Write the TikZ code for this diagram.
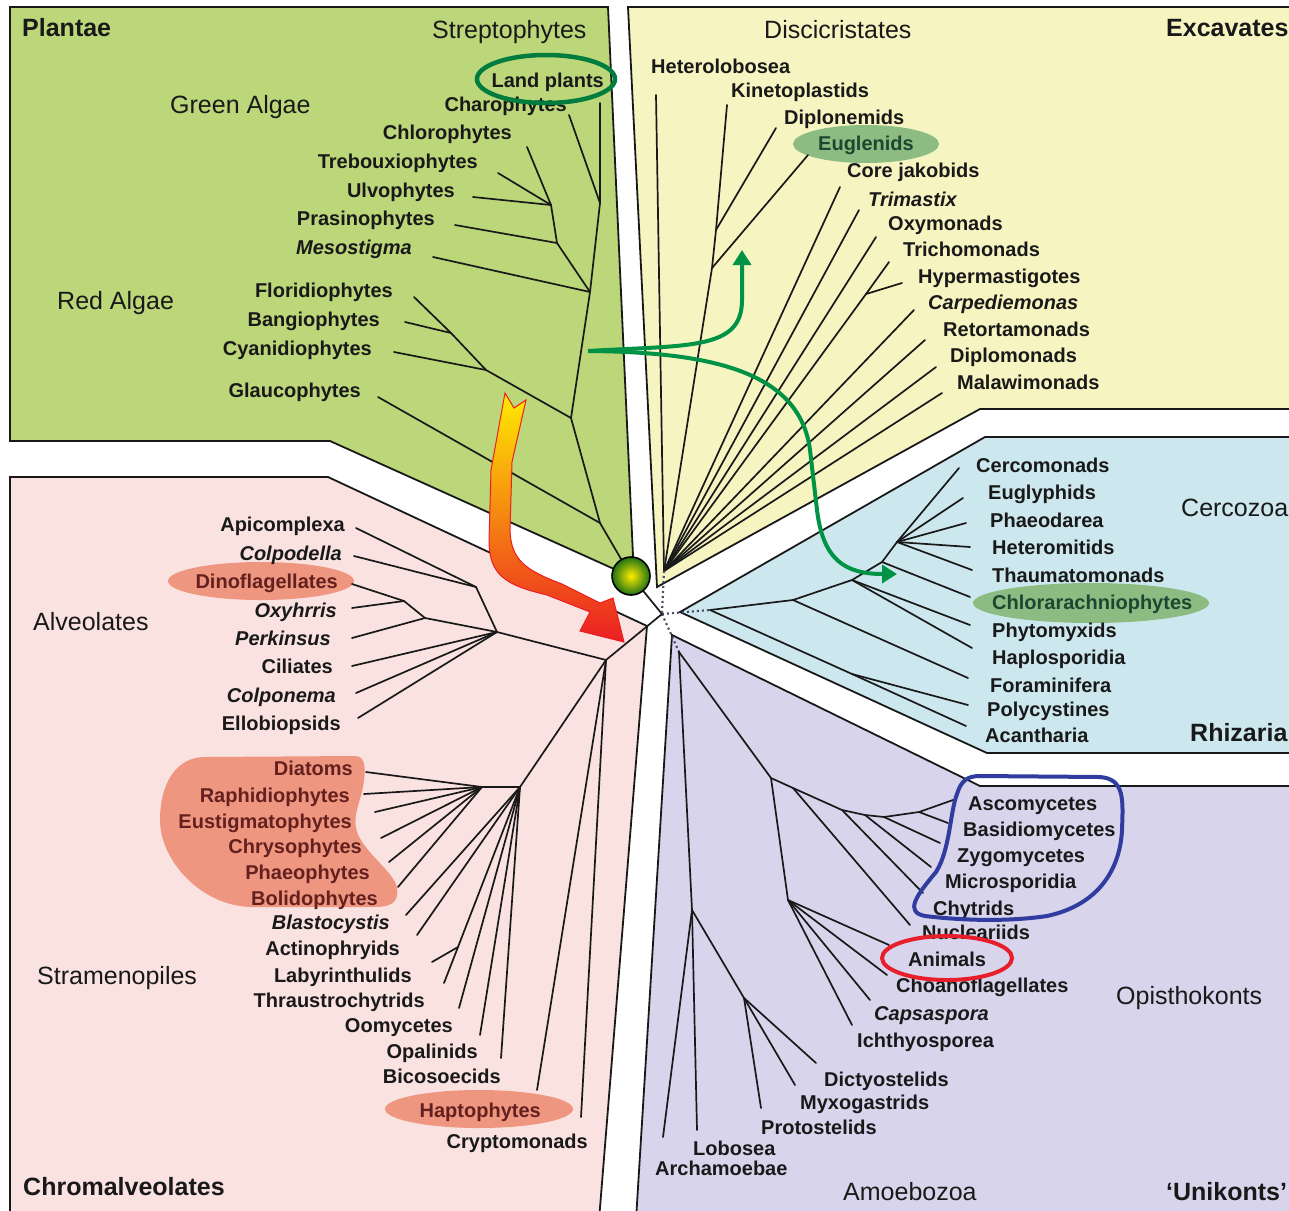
\documentclass[tikz,border=0pt]{standalone}
\usepackage{fontspec}
\setmainfont{Liberation Sans}
\usetikzlibrary{arrows.meta}
\definecolor{plantgreen}{RGB}{188,214,122}
\definecolor{excyellow}{RGB}{246,244,193}
\definecolor{rhizblue}{RGB}{204,232,238}
\definecolor{unipurple}{RGB}{216,212,236}
\definecolor{chrompink}{RGB}{250,226,224}
\definecolor{salmon}{RGB}{238,150,128}
\definecolor{hlgreen}{RGB}{140,188,130}
\definecolor{arrowgreen}{RGB}{0,146,69}
\definecolor{lpgreen}{RGB}{0,125,62}
\definecolor{fungiblue}{RGB}{48,60,160}
\definecolor{animred}{RGB}{232,30,42}
\definecolor{maroonc}{RGB}{100,32,30}
\definecolor{dkgreen}{RGB}{30,70,48}
\definecolor{dotcol}{RGB}{70,80,105}
\definecolor{inkc}{RGB}{25,25,25}
\definecolor{ayellow}{RGB}{255,236,0}
\definecolor{aorange}{RGB}{245,140,30}
\definecolor{ared}{RGB}{235,30,35}
\definecolor{ballout}{RGB}{30,115,20}
\begin{document}
\begin{tikzpicture}[x=1pt,y=-1pt,
 tx/.style={font=\fontsize{20}{22}\selectfont\bfseries, inner sep=0pt, text=inkc, text height=14.3pt, text depth=0pt},
 txi/.style={tx, font=\fontsize{20}{22}\selectfont\bfseries\itshape},
 grp/.style={font=\fontsize{25}{28}\selectfont, inner sep=0pt, text=inkc, text height=17.9pt, text depth=0pt},
 sgrp/.style={font=\fontsize{25}{28}\selectfont\bfseries, inner sep=0pt, text=inkc, text height=17.9pt, text depth=0pt},
 tl/.style={draw=inkc, line width=1.7pt, line cap=round, line join=round},
 rline/.style={draw=inkc, line width=1.8pt},
 dotl/.style={draw=dotcol, line width=2.2pt, dash pattern=on 2pt off 3pt},
 garrow/.style={draw=arrowgreen, line width=4pt, -{Triangle[length=15pt,width=18pt]}},
]
\useasboundingbox (0,0) rectangle (1289,1210);
\fill[white] (0,0) rectangle (1289,1210);
\clip (0,0) rectangle (1289,1210);

% ---------------- regions ----------------
\fill[plantgreen] (10,7) -- (608,7) -- (634,578) -- (330,441) -- (10,441) -- cycle;
\draw[rline] (10,7) -- (608,7) -- (634,578) -- (330,441) -- (10,441) -- cycle;
\fill[excyellow] (628,7) -- (1300,7) -- (1300,409) -- (980,409) -- (657,587) -- cycle;
\draw[rline] (628,7) -- (1300,7) -- (1300,409) -- (980,409) -- (657,587) -- cycle;
\fill[rhizblue] (985,437) -- (1300,437) -- (1300,753) -- (987,753) -- (680,612) -- cycle;
\draw[rline] (985,437) -- (1300,437) -- (1300,753) -- (987,753) -- (680,612) -- cycle;
\fill[unipurple] (672,635) -- (980,786) -- (1300,786) -- (1300,1220) -- (636,1220) -- cycle;
\draw[rline] (672,635) -- (980,786) -- (1300,786) -- (1300,1220) -- (636,1220) -- cycle;
\fill[chrompink] (10,477) -- (328,477) -- (647,626) -- (599,1220) -- (10,1220) -- cycle;
\draw[rline] (10,477) -- (328,477) -- (647,626) -- (599,1220) -- (10,1220) -- cycle;

% ---------------- highlight fills ----------------
\fill[hlgreen] (866,144) ellipse (73 and 19);
\fill[hlgreen] (1091,603) ellipse (118 and 20);
\fill[salmon] (261,581) ellipse (93 and 19);
\fill[salmon] (479,1109) ellipse (94 and 19);
\fill[salmon] (205,757) -- (355,756) .. controls (364,756) and (366,765) .. (364,780)
  .. controls (362,800) and (353,812) .. (356,828) .. controls (360,850) and (395,872) .. (397,888)
  .. controls (399,903) and (390,907) .. (375,907) -- (250,907)
  .. controls (200,905) and (160,860) .. (160,820) .. controls (160,785) and (175,757) .. (205,757) -- cycle;

% ---------------- coordinates ----------------
\coordinate (C) at (662,614);
\coordinate (Pc) at (631,576);
% Plantae
\coordinate (P1) at (600,523);
\coordinate (P2) at (571,418);
\coordinate (P3) at (590,292);
\coordinate (P4) at (557,243);
\coordinate (P5) at (551,205);
\coordinate (P6) at (600,203);
\coordinate (R1) at (486,370);
\coordinate (R2) at (451,333);
\coordinate (eLand) at (600,103);
\coordinate (eChar) at (569,115);
\coordinate (eChlo) at (527,147);
\coordinate (eTreb) at (498,173);
\coordinate (eUlvo) at (473,197);
\coordinate (ePras) at (455,225);
\coordinate (eMeso) at (433,257);
\coordinate (eFlor) at (414,297);
\coordinate (eBang) at (405,322);
\coordinate (eCyan) at (394,352);
\coordinate (eGlau) at (378,397);
% Excavates
\coordinate (E0) at (664,571);
\coordinate (K1) at (716,230);
\coordinate (K2) at (712,268);
\coordinate (T1) at (866,294);
\coordinate (eHet) at (656,95);
\coordinate (eKin) at (727,105);
\coordinate (eDipn) at (776,128);
\coordinate (eEug) at (808,155);
\coordinate (eCore) at (840,187);
\coordinate (eTrim) at (859,210);
\coordinate (eOxy) at (876,237);
\coordinate (eTrich) at (889,262);
\coordinate (eHyp) at (902,283);
\coordinate (eCarp) at (914,310);
\coordinate (eRet) at (925,340);
\coordinate (eDipm) at (936,367);
\coordinate (eMal) at (942,393);
% Rhizaria
\coordinate (Rz0) at (710,610);
\coordinate (Rz1) at (793,600);
\coordinate (Rz2) at (852,580);
\coordinate (Rz3) at (882,562);
\coordinate (Rz4) at (897,542);
\coordinate (Rz5) at (852,674);
\coordinate (eCerc) at (959,468);
\coordinate (eEugl) at (963,498);
\coordinate (ePhae) at (966,523);
\coordinate (eHetm) at (970,547);
\coordinate (eThau) at (972,570);
\coordinate (eChlr) at (970,597);
\coordinate (ePhyt) at (970,625);
\coordinate (eHapl) at (972,648);
\coordinate (eFora) at (968,678);
\coordinate (ePoly) at (968,705);
\coordinate (eAcan) at (966,726);
% Unikonts
\coordinate (U0) at (679,652);
\coordinate (A1) at (692,910);
\coordinate (A2) at (744,998);
\coordinate (eArch) at (663,1137);
\coordinate (eLobo) at (697,1130);
\coordinate (eDict) at (816,1063);
\coordinate (eMyxo) at (795,1085);
\coordinate (eProt) at (761,1108);
\coordinate (O1) at (771,778);
\coordinate (F0) at (793,788);
\coordinate (F1) at (842,810);
\coordinate (F2) at (865,815);
\coordinate (F3) at (884,817);
\coordinate (F4) at (919,812);
\coordinate (H0) at (788,900);
\coordinate (eAsco) at (953,800);
\coordinate (eBasi) at (948,823);
\coordinate (eZygo) at (940,843);
\coordinate (eMicr) at (931,867);
\coordinate (eChyt) at (923,893);
\coordinate (eNucl) at (910,925);
\coordinate (eAnim) at (889,945);
\coordinate (eChoa) at (887,975);
\coordinate (eCaps) at (870,1000);
\coordinate (eIcht) at (852,1025);
% Chromalveolates
\coordinate (CH0) at (606,660);
\coordinate (AL0) at (497,632);
\coordinate (AL1) at (476,587);
\coordinate (AL2) at (425,618);
\coordinate (AL3) at (404,601);
\coordinate (ST) at (520,787);
\coordinate (SA) at (482,787);
\coordinate (LT) at (458,947);
\coordinate (eApic) at (356,528);
\coordinate (eColp) at (354,556);
\coordinate (eDino) at (352,584);
\coordinate (eOxyh) at (352,608);
\coordinate (ePerk) at (352,638);
\coordinate (eCili) at (352,666);
\coordinate (eColn) at (356,693);
\coordinate (eEllo) at (358,718);
\coordinate (eDiat) at (366,772);
\coordinate (eRaph) at (364,794);
\coordinate (eEust) at (375,812);
\coordinate (eChry) at (381,838);
\coordinate (ePhao) at (389,862);
\coordinate (eBoli) at (398,887);
\coordinate (eBlas) at (406,915);
\coordinate (eActi) at (417,935);
\coordinate (eLaby) at (432,962);
\coordinate (eThra) at (444,983);
\coordinate (eOomy) at (459,1008);
\coordinate (eOpal) at (480,1035);
\coordinate (eBico) at (501,1058);
\coordinate (eHapt) at (537,1090);
\coordinate (eCryp) at (581,1117);

% ---------------- tree lines ----------------
% Plantae
\draw[tl] (eLand) -- (P6) -- (P3) -- (P2) -- (P1) -- (Pc) -- (C);
\draw[tl] (eChar) -- (P6);
\draw[tl] (eChlo) -- (P5) -- (P4) -- (P3);
\draw[tl] (eTreb) -- (P5);
\draw[tl] (eUlvo) -- (P5);
\draw[tl] (ePras) -- (P4);
\draw[tl] (eMeso) -- (P3);
\draw[tl] (eFlor) -- (R2) -- (R1) -- (P2);
\draw[tl] (eBang) -- (R2);
\draw[tl] (eCyan) -- (R1);
\draw[tl] (eGlau) -- (P1);
% Excavates
\draw[tl] (eHet) -- (E0);
\draw[tl] (eKin) -- (K1) -- (K2) -- (E0);
\draw[tl] (eDipn) -- (K1);
\draw[tl] (eEug) -- (K2);
\draw[tl] (eCore) -- (E0);
\draw[tl] (eTrim) -- (E0);
\draw[tl] (eOxy) -- (E0);
\draw[tl] (eTrich) -- (T1) -- (E0);
\draw[tl] (eHyp) -- (T1);
\draw[tl] (eCarp) -- (E0);
\draw[tl] (eRet) -- (E0);
\draw[tl] (eDipm) -- (E0);
\draw[tl] (eMal) -- (E0);
% centre
\draw[dotl] (E0) -- (C);
\draw[dotl] (C) -- (Rz0);
\draw[dotl] (C) -- (U0);
% Rhizaria
\draw[tl] (Rz0) -- (Rz1) -- (Rz2) -- (Rz3) -- (Rz4) -- (eCerc);
\draw[tl] (Rz4) -- (eEugl);
\draw[tl] (Rz4) -- (ePhae);
\draw[tl] (Rz4) -- (eHetm);
\draw[tl] (Rz4) -- (eThau);
\draw[tl] (Rz3) -- (eChlr);
\draw[tl] (Rz2) -- (ePhyt);
\draw[tl] (Rz2) -- (eHapl);
\draw[tl] (Rz1) -- (eFora);
\draw[tl] (Rz0) -- (Rz5) -- (eAcan);
\draw[tl] (Rz5) -- (ePoly);
% Unikonts
\draw[tl] (U0) -- (A1) -- (eArch);
\draw[tl] (A1) -- (eLobo);
\draw[tl] (A1) -- (A2) -- (eDict);
\draw[tl] (A2) -- (eMyxo);
\draw[tl] (A2) -- (eProt);
\draw[tl] (U0) -- (O1) -- (F0) -- (F1) -- (F2) -- (F3) -- (F4) -- (eAsco);
\draw[tl] (F4) -- (eBasi);
\draw[tl] (F3) -- (eZygo);
\draw[tl] (F2) -- (eMicr);
\draw[tl] (F1) -- (eChyt);
\draw[tl] (F0) -- (eNucl);
\draw[tl] (O1) -- (H0) -- (eAnim);
\draw[tl] (H0) -- (eChoa);
\draw[tl] (H0) -- (eCaps);
\draw[tl] (H0) -- (eIcht);
% Chromalveolates
\draw[tl] (C) -- (CH0);
\draw[tl] (CH0) -- (AL0) -- (AL1) -- (eApic);
\draw[tl] (AL1) -- (eColp);
\draw[tl] (AL0) -- (AL2) -- (AL3) -- (eDino);
\draw[tl] (AL3) -- (eOxyh);
\draw[tl] (AL2) -- (ePerk);
\draw[tl] (AL0) -- (eCili);
\draw[tl] (AL0) -- (eColn);
\draw[tl] (AL0) -- (eEllo);
\draw[tl] (CH0) -- (ST) -- (SA) -- (eDiat);
\draw[tl] (SA) -- (eRaph);
\draw[tl] (SA) -- (eEust);
\draw[tl] (SA) -- (eChry);
\draw[tl] (SA) -- (ePhao);
\draw[tl] (SA) -- (eBoli);
\draw[tl] (ST) -- (eBlas);
\draw[tl] (ST) -- (eActi);
\draw[tl] (ST) -- (LT) -- (eThra);
\draw[tl] (LT) -- (eLaby);
\draw[tl] (ST) -- (eOomy);
\draw[tl] (ST) -- (eOpal);
\draw[tl] (ST) -- (eBico);
\draw[tl] (CH0) -- (eHapt);
\draw[tl] (CH0) -- (eCryp);

% ---------------- labels ----------------
% Plantae
\node[sgrp,anchor=west] (gPlantae) at (22,28) {Plantae};
\node[grp,anchor=west] (gStrep) at (432,30) {Streptophytes};
\node[grp,anchor=west] (gGreen) at (170,105) {Green Algae};
\node[grp,anchor=west] (gRed) at (57,301) {Red Algae};
\node[tx,anchor=east] (lLand) at (604,80) {Land plants};
\node[tx,anchor=east] (lChar) at (567,104) {Charophytes};
\node[tx,anchor=east] (lChlo) at (512,132) {Chlorophytes};
\node[tx,anchor=east] (lTreb) at (478,161) {Trebouxiophytes};
\node[tx,anchor=east] (lUlvo) at (455,190) {Ulvophytes};
\node[tx,anchor=east] (lPras) at (435,218) {Prasinophytes};
\node[txi,anchor=east] (lMeso) at (412,247) {Mesostigma};
\node[tx,anchor=east] (lFlor) at (393,290) {Floridiophytes};
\node[tx,anchor=east] (lBang) at (380,319) {Bangiophytes};
\node[tx,anchor=east] (lCyan) at (372,348) {Cyanidiophytes};
\node[tx,anchor=east] (lGlau) at (361,390) {Glaucophytes};
% Excavates
\node[sgrp,anchor=west] (gExc) at (1166,28) {Excavates};
\node[grp,anchor=west] (gDisc) at (764,30) {Discicristates};
\node[tx,anchor=west] (lHet) at (651,66) {Heterolobosea};
\node[tx,anchor=west] (lKin) at (731,90) {Kinetoplastids};
\node[tx,anchor=west] (lDipn) at (784,117) {Diplonemids};
\node[tx,anchor=west,text=dkgreen] (lEug) at (818,143) {Euglenids};
\node[tx,anchor=west] (lCore) at (847,170) {Core jakobids};
\node[txi,anchor=west] (lTrim) at (868,199) {Trimastix};
\node[tx,anchor=west] (lOxy) at (888,223) {Oxymonads};
\node[tx,anchor=west] (lTrich) at (903,249) {Trichomonads};
\node[tx,anchor=west] (lHyp) at (918,276) {Hypermastigotes};
\node[txi,anchor=west] (lCarp) at (928,302) {Carpediemonas};
\node[tx,anchor=west] (lRet) at (943,329) {Retortamonads};
\node[tx,anchor=west] (lDipm) at (950,355) {Diplomonads};
\node[tx,anchor=west] (lMal) at (957,382) {Malawimonads};
% Rhizaria
\node[grp,anchor=west] (gCerc) at (1181,508) {Cercozoa};
\node[sgrp,anchor=west] (gRhiz) at (1190,733) {Rhizaria};
\node[tx,anchor=west] (lCerc) at (976,465) {Cercomonads};
\node[tx,anchor=west] (lEugl) at (988,492) {Euglyphids};
\node[tx,anchor=west] (lPhae) at (990,520) {Phaeodarea};
\node[tx,anchor=west] (lHetm) at (992,547) {Heteromitids};
\node[tx,anchor=west] (lThau) at (992,575) {Thaumatomonads};
\node[tx,anchor=west,text=dkgreen] (lChlr) at (992,602) {Chlorarachniophytes};
\node[tx,anchor=west] (lPhyt) at (992,630) {Phytomyxids};
\node[tx,anchor=west] (lHapl) at (992,657) {Haplosporidia};
\node[tx,anchor=west] (lFora) at (990,685) {Foraminifera};
\node[tx,anchor=west] (lPoly) at (987,709) {Polycystines};
\node[tx,anchor=west] (lAcan) at (985,735) {Acantharia};
% Unikonts
\node[grp,anchor=west] (gOpis) at (1116,996) {Opisthokonts};
\node[grp,anchor=west] (gAmoe) at (843,1192) {Amoebozoa};
\node[sgrp,anchor=west] (gUni) at (1166,1192) {‘Unikonts’};
\node[tx,anchor=west] (lAsco) at (968,803) {Ascomycetes};
\node[tx,anchor=west] (lBasi) at (963,829) {Basidiomycetes};
\node[tx,anchor=west] (lZygo) at (957,855) {Zygomycetes};
\node[tx,anchor=west] (lMicr) at (945,881) {Microsporidia};
\node[tx,anchor=west] (lChyt) at (933,908) {Chytrids};
\node[tx,anchor=west] (lNucl) at (922,932) {Nucleariids};
\node[tx,anchor=west] (lAnim) at (908,959) {Animals};
\node[tx,anchor=west] (lChoa) at (896,985) {Choanoflagellates};
\node[txi,anchor=west] (lCaps) at (874,1013) {Capsaspora};
\node[tx,anchor=west] (lIcht) at (857,1040) {Ichthyosporea};
\node[tx,anchor=west] (lDict) at (824,1079) {Dictyostelids};
\node[tx,anchor=west] (lMyxo) at (800,1102) {Myxogastrids};
\node[tx,anchor=west] (lProt) at (761,1127) {Protostelids};
\node[tx,anchor=west] (lLobo) at (693,1148) {Lobosea};
\node[tx,anchor=west] (lArch) at (655,1168) {Archamoebae};
% Chromalveolates
\node[grp,anchor=west] (gAlv) at (33,622) {Alveolates};
\node[grp,anchor=west] (gStra) at (37,976) {Stramenopiles};
\node[sgrp,anchor=west] (gChrom) at (23,1187) {Chromalveolates};
\node[tx,anchor=east] (lApic) at (345,524) {Apicomplexa};
\node[txi,anchor=east] (lColp) at (342,553) {Colpodella};
\node[tx,anchor=east,text=maroonc] (lDino) at (338,581) {Dinoflagellates};
\node[txi,anchor=east] (lOxyh) at (337,610) {Oxyhrris};
\node[txi,anchor=east] (lPerk) at (331,638) {Perkinsus};
\node[tx,anchor=east] (lCili) at (333,666) {Ciliates};
\node[txi,anchor=east] (lColn) at (336,695) {Colponema};
\node[tx,anchor=east] (lEllo) at (341,723) {Ellobiopsids};
\node[tx,anchor=east,text=maroonc] (lDiat) at (353,768) {Diatoms};
\node[tx,anchor=east,text=maroonc] (lRaph) at (350,795) {Raphidiophytes};
\node[tx,anchor=east,text=maroonc] (lEust) at (352,821) {Eustigmatophytes};
\node[tx,anchor=east,text=maroonc] (lChry) at (362,846) {Chrysophytes};
\node[tx,anchor=east,text=maroonc] (lPhao) at (370,872) {Phaeophytes};
\node[tx,anchor=east,text=maroonc] (lBoli) at (378,898) {Bolidophytes};
\node[txi,anchor=east] (lBlas) at (390,922) {Blastocystis};
\node[tx,anchor=east] (lActi) at (400,948) {Actinophryids};
\node[tx,anchor=east] (lLaby) at (412,975) {Labyrinthulids};
\node[tx,anchor=east] (lThra) at (425,1000) {Thraustrochytrids};
\node[tx,anchor=east] (lOomy) at (453,1025) {Oomycetes};
\node[tx,anchor=east] (lOpal) at (478,1051) {Opalinids};
\node[tx,anchor=east] (lBico) at (501,1076) {Bicosoecids};
\node[tx,anchor=east,text=maroonc] (lHapt) at (541,1110) {Haptophytes};
\node[tx,anchor=east] (lCryp) at (588,1141) {Cryptomonads};

% ---------------- outline highlights ----------------
\draw[lpgreen, line width=4.5pt] (546,79) ellipse (69 and 24);
\draw[animred, line width=4pt] (947,958) ellipse (65 and 22);
\draw[fungiblue, line width=4pt, line join=round] (980,776) -- (1100,777)
  .. controls (1125,779) and (1123,800) .. (1122,830)
  .. controls (1120,870) and (1098,905) .. (1047,916)
  .. controls (1000,923) and (950,919) .. (925,916)
  .. controls (905,912) and (915,897) .. (936,872)
  .. controls (950,850) and (950,812) .. (957,794)
  .. controls (961,781) and (967,776) .. (980,776) -- cycle;

% ---------------- arrows ----------------
\shade[top color=ayellow, middle color=aorange, bottom color=ared, draw=ared, line width=1pt, line join=miter]
  (505,393) -- (491,470) -- (489,540)
  .. controls (489,575) and (505,585) .. (547,595)
  -- (590,612) -- (580,631) -- (624,642) -- (613,598) -- (600,603) -- (562,584)
  .. controls (525,570) and (511,560) .. (510,530)
  -- (512,462) -- (526,400) -- (514,408) -- cycle;

\coordinate (gS) at (588,351);
\coordinate (gT1) at (742,250);
\coordinate (gT2) at (897,574);
\draw[garrow] (gS) .. controls (690,345) and (742,350) .. (742,300) -- (gT1);
\draw[garrow] (gS) .. controls (720,352) and (800,375) .. (810,450) -- (817,510) .. controls (823,560) and (845,574) .. (gT2);

% root circle
\shade[inner color=ayellow, outer color=ballout] (Pc) circle (19);
\draw[black, line width=1.6pt] (Pc) circle (19);
\end{tikzpicture}
\end{document}
